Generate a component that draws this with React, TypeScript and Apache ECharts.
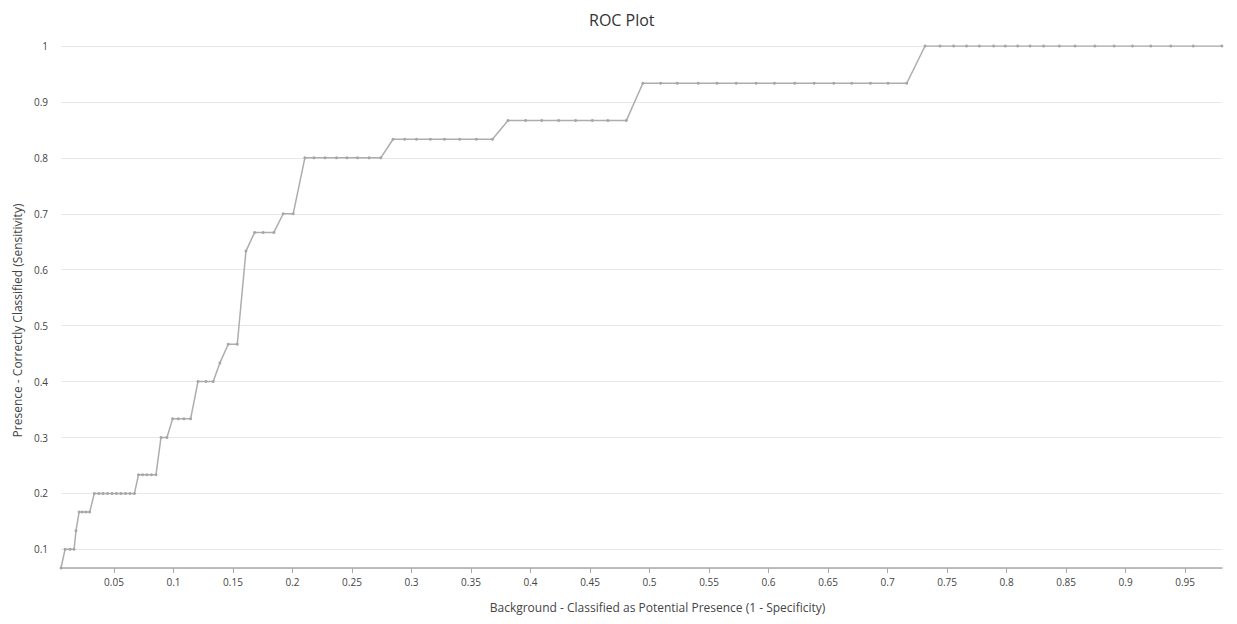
import React, { useRef, useEffect } from 'react'
import * as echarts from 'echarts'

// 1 - specificity (x) for each threshold point
const fpr = [
  0.0055, 0.0089, 0.0131, 0.0165, 0.0181, 0.0207, 0.0234, 0.0265, 0.0296,
  0.0335, 0.0372, 0.0408, 0.0446, 0.0484, 0.0521, 0.0559, 0.0597, 0.0635, 0.0672,
  0.0706, 0.074, 0.0777, 0.0815, 0.0853, 0.0895, 0.0945,
  0.0993, 0.104, 0.1088, 0.1144, 0.1206, 0.1273, 0.1334, 0.139, 0.146, 0.1536,
  0.1609, 0.1682, 0.1754, 0.1844, 0.1922, 0.2006,
  0.2104, 0.218, 0.2274, 0.237, 0.2457, 0.2546, 0.2644, 0.2742,
  0.2845, 0.2943, 0.3042, 0.3159, 0.3277, 0.3405, 0.3545, 0.368,
  0.3811, 0.3959, 0.4094, 0.4236, 0.4379, 0.4519, 0.465, 0.4805,
  0.4944, 0.5093, 0.5233, 0.5409, 0.5566, 0.5728, 0.5896, 0.605, 0.622, 0.6383,
  0.6548, 0.6699, 0.6856, 0.7004, 0.7161,
  0.7315, 0.7441, 0.7555, 0.7664, 0.7771, 0.7891, 0.7989, 0.8093, 0.8197, 0.8311,
  0.8443, 0.8575, 0.8742, 0.8904, 0.9058, 0.9212, 0.938, 0.9568, 0.9809,
]

// sensitivity (y), in thirtieths
const tprCount = [
  2, 3, 3, 3, 4, 5, 5, 5, 5,
  6, 6, 6, 6, 6, 6, 6, 6, 6, 6,
  7, 7, 7, 7, 7, 9, 9,
  10, 10, 10, 10, 12, 12, 12, 13, 14, 14,
  19, 20, 20, 20, 21, 21,
  24, 24, 24, 24, 24, 24, 24, 24,
  25, 25, 25, 25, 25, 25, 25, 25,
  26, 26, 26, 26, 26, 26, 26, 26,
  28, 28, 28, 28, 28, 28, 28, 28, 28, 28,
  28, 28, 28, 28, 28,
  30, 30, 30, 30, 30, 30, 30, 30, 30, 30,
  30, 30, 30, 30, 30, 30, 30, 30, 30,
]
const presenceTotal = 30

const xMin = 0.0055
const xMax = 0.981
const yMin = 2 / 30
const yMax = 1

const fmt = (v: number) => {
  const r = Math.round(v * 100) / 100
  if (Math.abs(r - v) > 1e-6) return ''
  return String(r)
}

function RocChart() {
  const chartRef = useRef(null)

  useEffect(() => {
    document.body.style.margin = '0'
    const chart = echarts.init(chartRef.current, null, { renderer: 'svg' })

    const points = fpr.map((x, i) => [x, tprCount[i] / presenceTotal])
    const font = '"Open Sans", "Noto Sans", sans-serif'

    const option = {
      animation: false,
      textStyle: { fontFamily: font },
      title: {
        text: 'ROC Plot',
        left: 584,
        top: 7,
        textStyle: { fontSize: 16, fontWeight: 'normal', color: '#333', fontFamily: font },
      },
      grid: { left: 61, right: 15, top: 46, bottom: 56 },
      xAxis: {
        type: 'value',
        min: xMin,
        max: xMax,
        splitNumber: 20,
        name: 'Background - Classified as Potential Presence (1 - Specificity)',
        nameLocation: 'middle',
        nameGap: 33,
        nameTextStyle: { fontSize: 12, color: '#444', padding: [0, 0, 0, 32] },
        axisLine: { lineStyle: { color: '#aaa', width: 1.5 } },
        axisTick: { show: true, length: 5, lineStyle: { color: '#aaa' } },
        axisLabel: { fontSize: 10, color: '#444', margin: 9, formatter: fmt, showMinLabel: false, showMaxLabel: false },
        splitLine: { show: false },
      },
      yAxis: {
        type: 'value',
        min: yMin,
        max: yMax,
        splitNumber: 9,
        name: 'Presence - Correctly Classified (Sensitivity)',
        nameLocation: 'middle',
        nameGap: 38,
        nameTextStyle: { fontSize: 12, color: '#444', padding: [0, 27, 0, 0] },
        axisLine: { show: false },
        axisTick: { show: false },
        axisLabel: { fontSize: 10, color: '#444', margin: 13, formatter: fmt, showMinLabel: false },
        splitLine: { show: true, lineStyle: { color: '#e8e8e8', width: 1 } },
      },
      series: [
        {
          name: 'ROC',
          type: 'line',
          data: points,
          symbol: 'circle',
          symbolSize: 3,
          showAllSymbol: true,
          lineStyle: { color: '#adadad', width: 1.5 },
          itemStyle: { color: '#a6a6a6' },
        },
      ],
    }

    chart.setOption(option)

    return () => {
      chart.dispose()
    }
  }, [])

  return <div ref={chartRef} style={{ width: 1237, height: 624 }}></div>
}

export default function App() {
  return <RocChart />
}
